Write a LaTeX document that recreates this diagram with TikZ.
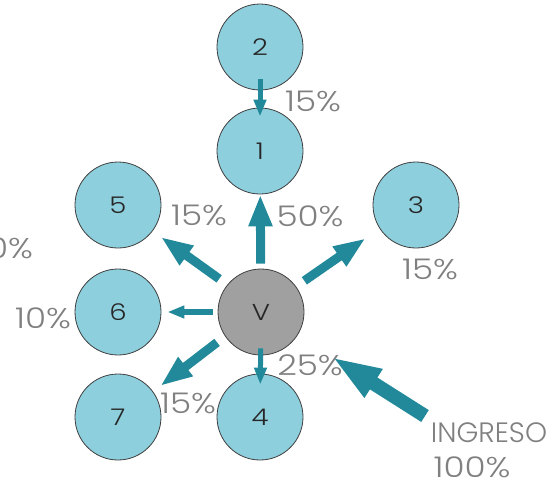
\documentclass[tikz,border=0pt]{standalone}
\usepackage{fontspec}
\setmainfont{Poppins}[UprightFont=* Light]
\newfontfamily\widefont{Poppins}[UprightFont=* Light, FakeStretch=1.2]
\usepackage{tikz}
\usetikzlibrary{arrows.meta}
\usepackage{xcolor}
\definecolor{flowteal}{RGB}{33,137,153}
\definecolor{roomblue}{RGB}{142,207,221}
\definecolor{hubgray}{RGB}{160,160,160}
\definecolor{pctgray}{RGB}{128,128,128}

\begin{document}
\begin{tikzpicture}[
    x=1pt, y=-1pt,
    room/.style={draw=black!75, line width=0.8pt, circle, fill=roomblue, minimum size=86pt, inner sep=0pt, font=\widefont\fontsize{23}{25}\selectfont, text=black!85},
    hub/.style={room, fill=hubgray},
    pct/.style={font=\widefont\fontsize{28.5}{30}\selectfont, text=pctgray, inner sep=0pt},
    word/.style={pct, font=\fontsize{28}{30}\selectfont},
    flow/.style={draw=flowteal, line width=9pt, -{Triangle[length=32pt,width=22pt]}},
    thinflow/.style={draw=flowteal, line width=5pt, -{Triangle[length=17pt,width=12pt]}},
    inflow/.style={draw=flowteal, line width=14pt, -{Triangle[length=50pt,width=30pt]}}
  ]
  \useasboundingbox (0,0) rectangle (556,488);

  \node[room] (n2) at (260, 47) {2};
  \node[room] (n1) at (260, 151) {1};
  \node[room] (n3) at (416, 205) {3};
  \node[room] (n5) at (118, 205) {5};
  \node[room] (n6) at (118, 312) {6};
  \node[hub] (v) at (261, 312) {V};
  \node[room] (n7) at (118, 417) {7};
  \node[room] (n4) at (260, 417) {4};

  \node[pct] (p21) at (313, 101) {15\%};
  \node[pct] (p1) at (310, 216) {50\%};
  \node[pct] (p3) at (430, 269) {15\%};
  \node[pct] (p5) at (199, 215) {15\%};
  \node[pct] (p6) at (43, 318) {10\%};
  \node[pct] (pout) at (5, 248) {10\%};
  \node[pct] (p7) at (188, 403) {15\%};
  \node[pct] (p4) at (310, 365) {25\%};
  \node[word] (ingreso) at (489, 433) {INGRESO};
  \node[pct] (total) at (472, 467) {100\%};
  \coordinate (entry) at (425, 416);

  \draw[thinflow, shorten <=-11pt, shorten >=-9pt] (n2) -- (n1);
  \draw[flow, shorten <=5pt] (v) -- (n1);
  \draw[flow, shorten <=10pt, shorten >=17pt] (v.36) -- (n3.213);
  \draw[flow, shorten <=10pt, shorten >=10pt] (v.141) -- (n5.323);
  \draw[thinflow, line width=6pt, shorten <=5pt, shorten >=6pt] (v) -- (n6);
  \draw[flow, shorten <=10pt, shorten >=9pt] (v.214) -- (n7.36);
  \draw[thinflow, shorten <=-7pt, shorten >=-11pt] (v) -- (n4);
  \draw[inflow, shorten >=40pt] (entry) -- (v);
\end{tikzpicture}
\end{document}
